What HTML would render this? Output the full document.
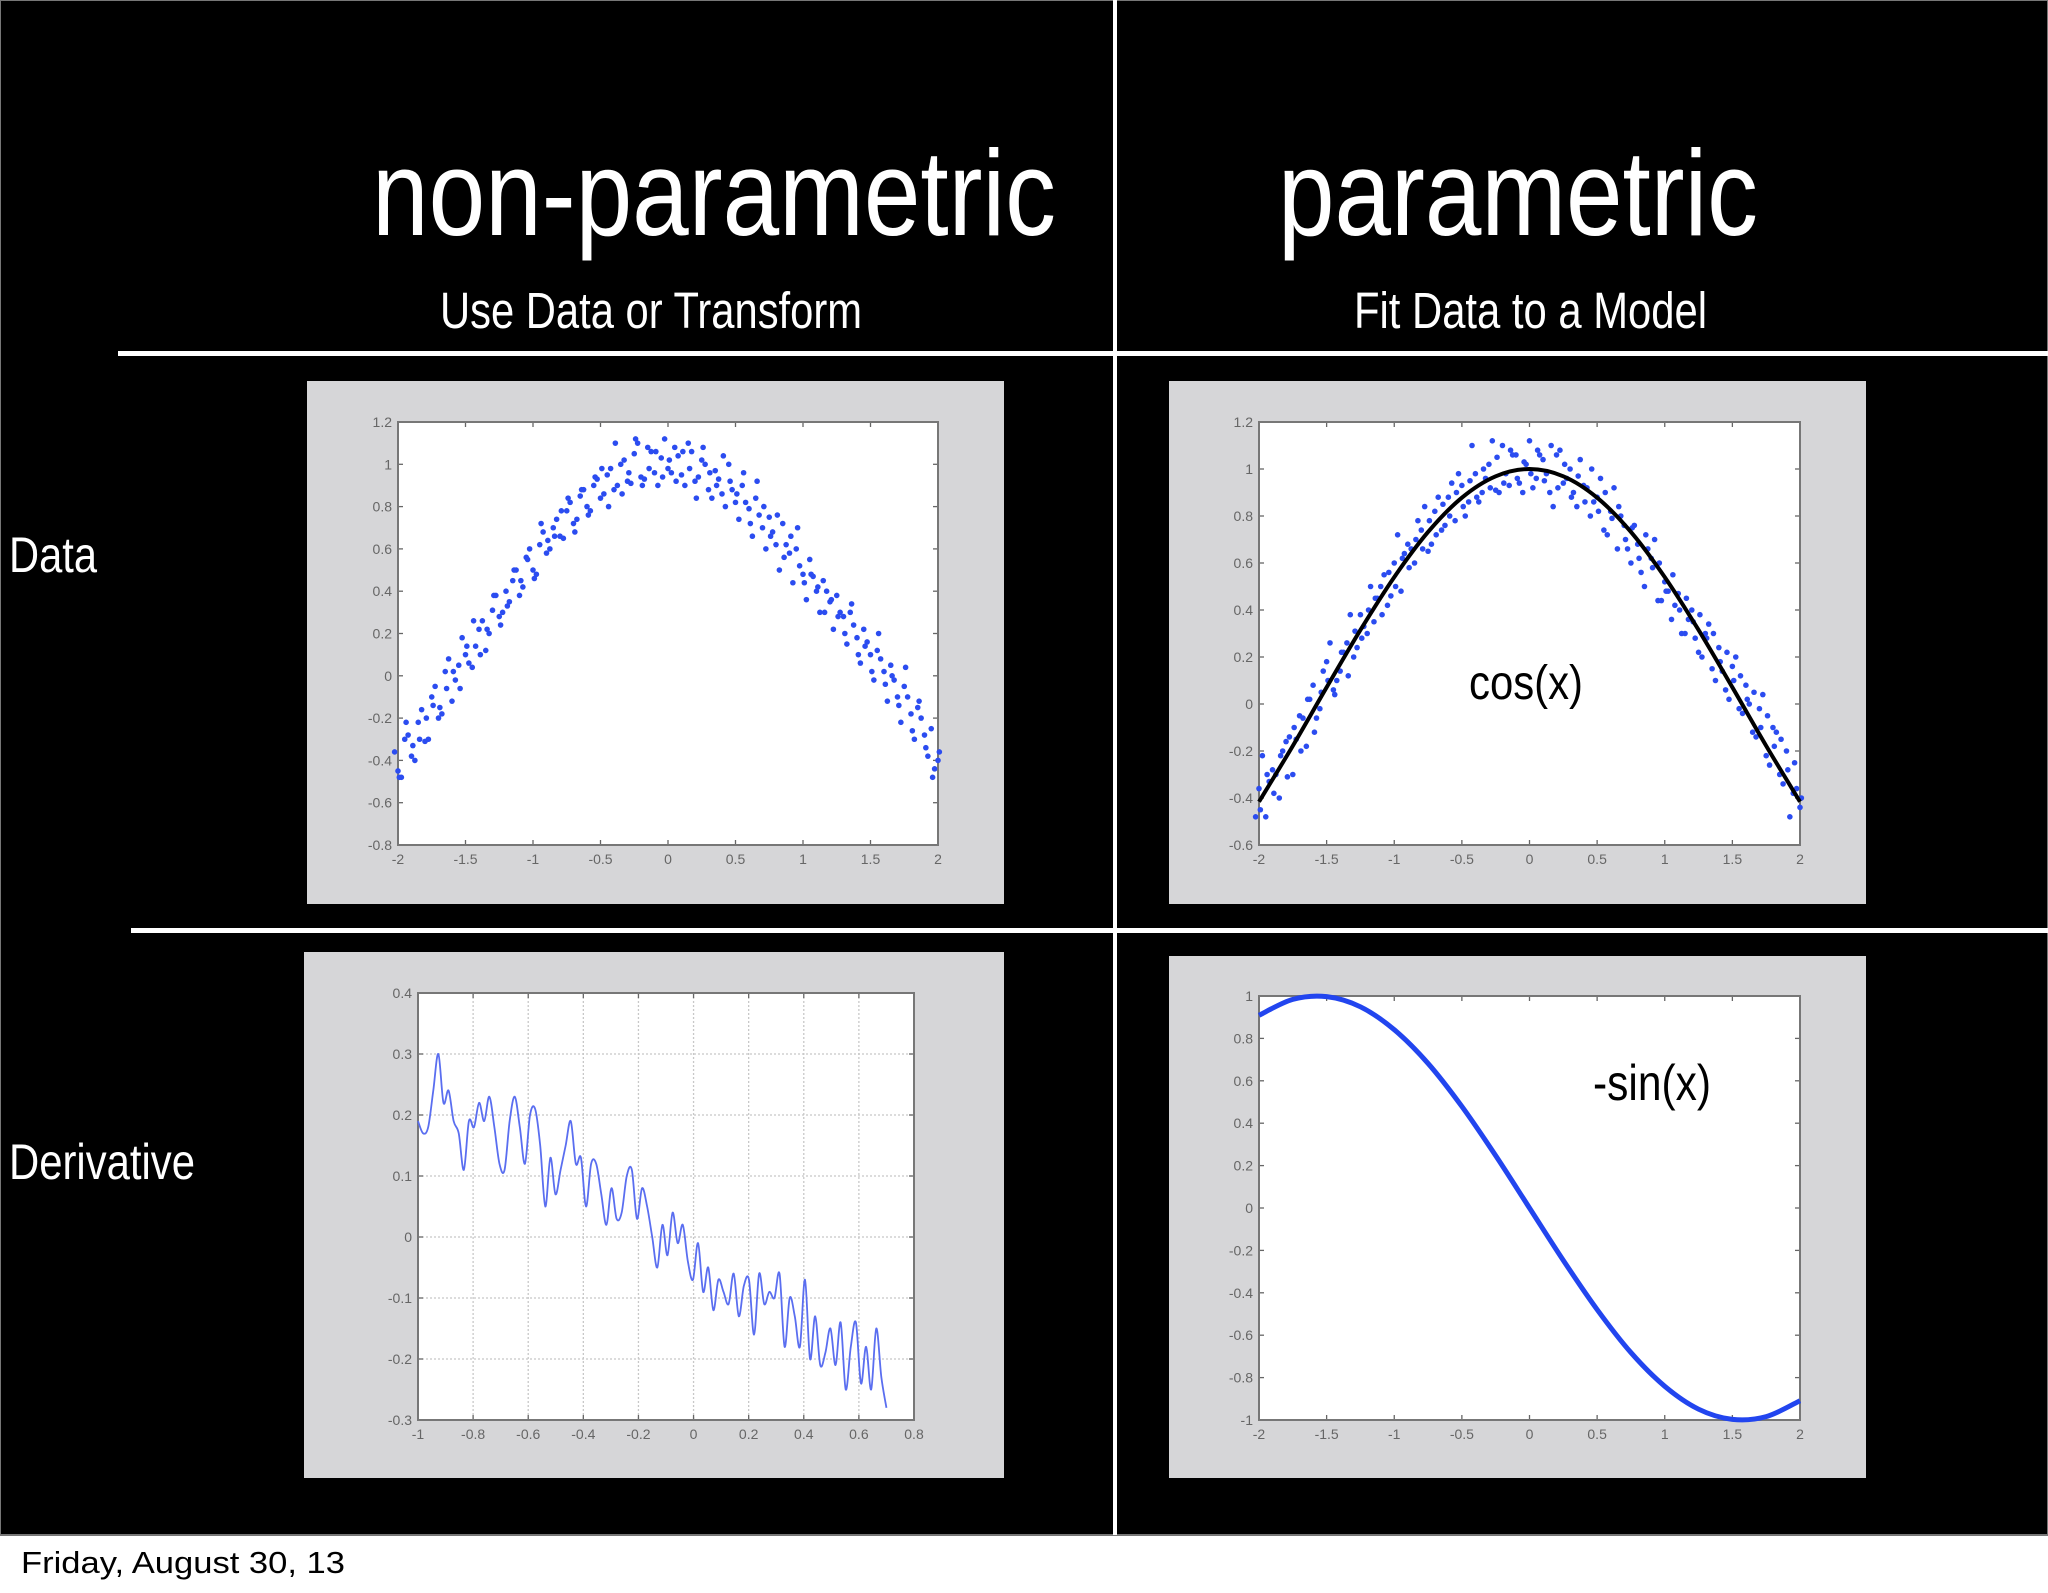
<!DOCTYPE html>
<html><head><meta charset="utf-8"><style>
html,body{margin:0;padding:0;background:#fff;}
svg{display:block;}
</style></head><body>
<svg id="root" width="2048" height="1593" viewBox="0 0 2048 1593" xmlns="http://www.w3.org/2000/svg" font-family="Liberation Sans, sans-serif">
<rect x="0" y="0" width="2048" height="1593" fill="#fff"/>
<rect x="0" y="0" width="2048" height="1535" fill="#000" stroke="#777" stroke-width="2"/>
<rect x="1113" y="0" width="4" height="1535" fill="#fff"/>
<rect x="118" y="351" width="1930" height="5" fill="#fff"/>
<rect x="131" y="928" width="1917" height="5" fill="#fff"/>
<text x="372" y="235" font-size="122" fill="#fff" textLength="684" lengthAdjust="spacingAndGlyphs">non-parametric</text>
<text x="1278" y="235" font-size="122" fill="#fff" textLength="480" lengthAdjust="spacingAndGlyphs">parametric</text>
<text x="440" y="328" font-size="51" fill="#fff" textLength="422" lengthAdjust="spacingAndGlyphs">Use Data or Transform</text>
<text x="1354" y="328" font-size="51" fill="#fff" textLength="353" lengthAdjust="spacingAndGlyphs">Fit Data to a Model</text>
<text x="9" y="572" font-size="50" fill="#fff" textLength="88" lengthAdjust="spacingAndGlyphs">Data</text>
<text x="9" y="1179" font-size="50" fill="#fff" textLength="186" lengthAdjust="spacingAndGlyphs">Derivative</text>
<text x="21" y="1573" font-size="31" fill="#000" textLength="324" lengthAdjust="spacingAndGlyphs">Friday, August 30, 13</text>
<g id="charts"></g>
</svg>
<script>
const scatterYA = [-0.45,-0.30,-0.38,-0.22,-0.31,-0.10,-0.20,0.02,-0.12,0.05,0.10,0.04,0.22,0.12,0.31,0.28,0.40,0.45,0.38,0.56,0.50,0.62,0.58,0.70,0.66,0.78,0.72,0.85,0.80,0.90,0.84,0.95,0.88,1.00,0.92,1.05,0.94,1.08,0.96,1.03,0.98,
1.08,0.95,1.10,0.92,1.02,0.88,0.97,0.86,1.00,0.82,0.90,0.79,0.84,0.70,0.75,0.62,0.72,0.58,0.60,0.48,0.55,0.40,0.45,0.35,0.38,0.28,0.30,0.18,0.22,0.10,0.12,0.02,0.05,-0.10,-0.05,-0.18,-0.15,-0.28,-0.25,-0.40];
const scatterYB = [-0.36,-0.48,-0.28,-0.40,-0.16,-0.30,-0.05,-0.18,0.08,-0.02,0.18,0.06,0.14,0.26,0.20,0.38,0.30,0.35,0.50,0.42,0.60,0.48,0.68,0.60,0.74,0.65,0.82,0.74,0.88,0.78,0.93,0.86,0.98,0.90,1.02,0.91,1.10,0.93,1.06,0.90,1.12,
0.96,1.04,0.90,1.06,0.94,1.00,0.84,0.93,0.80,0.88,0.74,0.82,0.66,0.76,0.60,0.68,0.50,0.62,0.44,0.52,0.36,0.47,0.30,0.40,0.22,0.30,0.15,0.24,0.06,0.16,-0.02,0.08,-0.12,-0.02,-0.22,-0.10,-0.30,-0.20,-0.38,-0.44];
const scatterYC = [-0.48,-0.22,-0.33,-0.30,-0.20,-0.14,-0.15,-0.06,0.02,-0.06,0.14,0.26,0.10,0.22,0.38,0.24,0.33,0.50,0.45,0.55,0.46,0.72,0.64,0.66,0.78,0.84,0.68,0.88,0.76,0.94,0.98,0.80,1.10,0.86,0.96,1.12,0.90,0.98,1.06,0.94,1.02,
0.92,1.06,0.98,0.84,1.08,0.96,0.90,1.04,0.92,0.86,0.96,0.72,0.92,0.80,0.66,0.76,0.56,0.66,0.70,0.44,0.48,0.42,0.30,0.36,0.28,0.20,0.34,0.10,0.14,0.02,0.20,-0.04,0.00,-0.14,0.04,-0.26,-0.12,-0.34,-0.48,-0.36];
const cosFitY = [-0.416,-0.178,0.071,0.315,0.540,0.732,0.878,0.969,1,0.969,0.878,0.732,0.540,0.315,0.071,-0.178,-0.416];
const negSinY = [0.909,0.984,0.997,0.949,0.841,0.682,0.479,0.247,0,-0.247,-0.479,-0.682,-0.841,-0.949,-0.997,-0.984,-0.909];
const derivY = [0.19,0.17,0.18,0.24,0.30,0.22,0.24,0.19,0.17,0.11,0.19,0.18,0.22,0.19,0.23,0.18,0.12,0.11,0.19,0.23,0.18,0.12,0.20,0.21,0.15,0.05,0.13,0.07,0.11,0.15,0.19,0.12,0.13,0.05,0.12,0.12,0.07,0.02,0.08,0.03,0.04,0.10,0.11,0.03,0.08,0.05,0.00,-0.05,0.02,-0.03,0.04,-0.01,0.02,-0.04,-0.07,-0.01,-0.09,-0.05,-0.12,-0.07,-0.09,-0.11,-0.06,-0.13,-0.08,-0.07,-0.16,-0.06,-0.11,-0.09,-0.10,-0.06,-0.18,-0.10,-0.13,-0.18,-0.07,-0.20,-0.13,-0.21,-0.19,-0.15,-0.21,-0.14,-0.25,-0.18,-0.14,-0.24,-0.18,-0.25,-0.15,-0.23,-0.28];
const ticksX4 = [-2,-1.5,-1,-0.5,0,0.5,1,1.5,2];
const ticksY1 = [-0.8,-0.6,-0.4,-0.2,0,0.2,0.4,0.6,0.8,1,1.2];
const ticksY2 = [-0.6,-0.4,-0.2,0,0.2,0.4,0.6,0.8,1,1.2];
const ticksY3 = [-0.3,-0.2,-0.1,0,0.1,0.2,0.3,0.4];
const ticksX3 = [-1,-0.8,-0.6,-0.4,-0.2,0,0.2,0.4,0.6,0.8];
const ticksY4 = [-1,-0.8,-0.6,-0.4,-0.2,0,0.2,0.4,0.6,0.8,1];

const NS='http://www.w3.org/2000/svg';
const root=document.getElementById('charts');
function mk(tag,attrs,parent){const e=document.createElementNS(NS,tag);for(const k in attrs)e.setAttribute(k,attrs[k]);(parent||root).appendChild(e);return e;}
function lbl(v){return String(v);}

function panel(name,bg,ax,xd,yd,xt,yt,grid){
  const g=mk('g',{});
  
  
  const r=mk('rect',{x:bg[0],y:bg[1],width:bg[2],height:bg[3],fill:'#d6d6d8'},g);
  
  
  const p=mk('rect',{x:ax[0],y:ax[1],width:ax[2]-ax[0],height:ax[3]-ax[1],fill:'#fff'},g);
  
  
  const sx=v=>ax[0]+(v-xd[0])/(xd[1]-xd[0])*(ax[2]-ax[0]);
  const sy=v=>ax[3]-(v-yd[0])/(yd[1]-yd[0])*(ax[3]-ax[1]);
  xt.forEach(v=>{
    const x=sx(v);
    if(grid){const gl=mk('line',{x1:x,x2:x,y1:ax[1],y2:ax[3],stroke:'#c8c8c8','stroke-dasharray':'2,2','stroke-width':1.3},g);}
    mk('line',{x1:x,x2:x,y1:ax[3],y2:ax[3]-5,stroke:'#666','stroke-width':1.3},g);
    mk('line',{x1:x,x2:x,y1:ax[1],y2:ax[1]+5,stroke:'#666','stroke-width':1.3},g);
    const t=mk('text',{x:x,y:ax[3]+19,'font-size':14,fill:'#666','text-anchor':'middle'},g);
    t.textContent=lbl(v);
    
    
  });
  yt.forEach(v=>{
    const y=sy(v);
    if(grid){const gl=mk('line',{x1:ax[0],x2:ax[2],y1:y,y2:y,stroke:'#c8c8c8','stroke-dasharray':'2,2','stroke-width':1.3},g);}
    mk('line',{x1:ax[0],x2:ax[0]+5,y1:y,y2:y,stroke:'#666','stroke-width':1.3},g);
    mk('line',{x1:ax[2],x2:ax[2]-5,y1:y,y2:y,stroke:'#666','stroke-width':1.3},g);
    const t=mk('text',{x:ax[0]-6,y:y+5,'font-size':14,fill:'#666','text-anchor':'end'},g);
    t.textContent=lbl(v);
    
    
  });
  const f=mk('rect',{x:ax[0],y:ax[1],width:ax[2]-ax[0],height:ax[3]-ax[1],fill:'none',stroke:'#777','stroke-width':2},g);
  
  
  return {g,sx,sy};
}
function scatter(P,ys,x0,step){
  ys.forEach((v,i)=>{
    const c=mk('circle',{cx:P.sx(x0+i*step),cy:P.sy(v),r:2.8,fill:'#2b4cf0'},P.g);
    
    
  });
}
function line(P,ys,x0,x1,color,w,name){
  const n=ys.length;
  const pts=ys.map((v,i)=>[P.sx(x0+(x1-x0)*i/(n-1)),P.sy(v)]);
  let d='M'+pts[0][0]+','+pts[0][1];
  for(let i=0;i<n-1;i++){
    const p0=pts[Math.max(0,i-1)],p1=pts[i],p2=pts[i+1],p3=pts[Math.min(n-1,i+2)];
    d+=' C'+(p1[0]+(p2[0]-p0[0])/6)+','+(p1[1]+(p2[1]-p0[1])/6)+' '+(p2[0]-(p3[0]-p1[0])/6)+','+(p2[1]-(p3[1]-p1[1])/6)+' '+p2[0]+','+p2[1];
  }
  const e=mk('path',{d:d,fill:'none',stroke:color,'stroke-width':w,'stroke-linejoin':'round'},P.g);
  
  
}

const P1=panel('data-scatter-chart',[307,381,697,523],[398,422,938,845],[-2,2],[-0.8,1.2],ticksX4,ticksY1,false);
scatter(P1,scatterYA,-2,0.05);scatter(P1,scatterYB,-2.025,0.05);scatter(P1,scatterYC,-1.99,0.05);

const P2=panel('cos-fit-chart',[1169,381,697,523],[1259,422,1800,845],[-2,2],[-0.6,1.2],ticksX4,ticksY2,false);
scatter(P2,scatterYB,-2,0.05);scatter(P2,scatterYC,-2.025,0.05);scatter(P2,scatterYA,-1.99,0.05);
line(P2,cosFitY,-2,2,'#000',4,'cos-fit-line');
const t2=mk('text',{x:1469,y:699,'font-size':48,fill:'#000'},P2.g);
t2.textContent='cos(x)';
t2.setAttribute('textLength','114');t2.setAttribute('lengthAdjust','spacingAndGlyphs');



const P3=panel('derivative-chart',[304,952,700,526],[418,993,914,1420],[-1,0.8],[-0.3,0.4],ticksX3,ticksY3,true);
line(P3,derivY,-1,0.7,'#5a6ef0',1.8,'derivative-line');

const P4=panel('neg-sin-chart',[1169,956,697,522],[1259,996,1800,1420],[-2,2],[-1,1],ticksX4,ticksY4,false);
line(P4,negSinY,-2,2,'#2245ef',5,'neg-sin-line');
const t4=mk('text',{x:1593,y:1100,'font-size':50,fill:'#000'},P4.g);
t4.textContent='-sin(x)';
t4.setAttribute('textLength','118');t4.setAttribute('lengthAdjust','spacingAndGlyphs');


</script>
</body></html>
